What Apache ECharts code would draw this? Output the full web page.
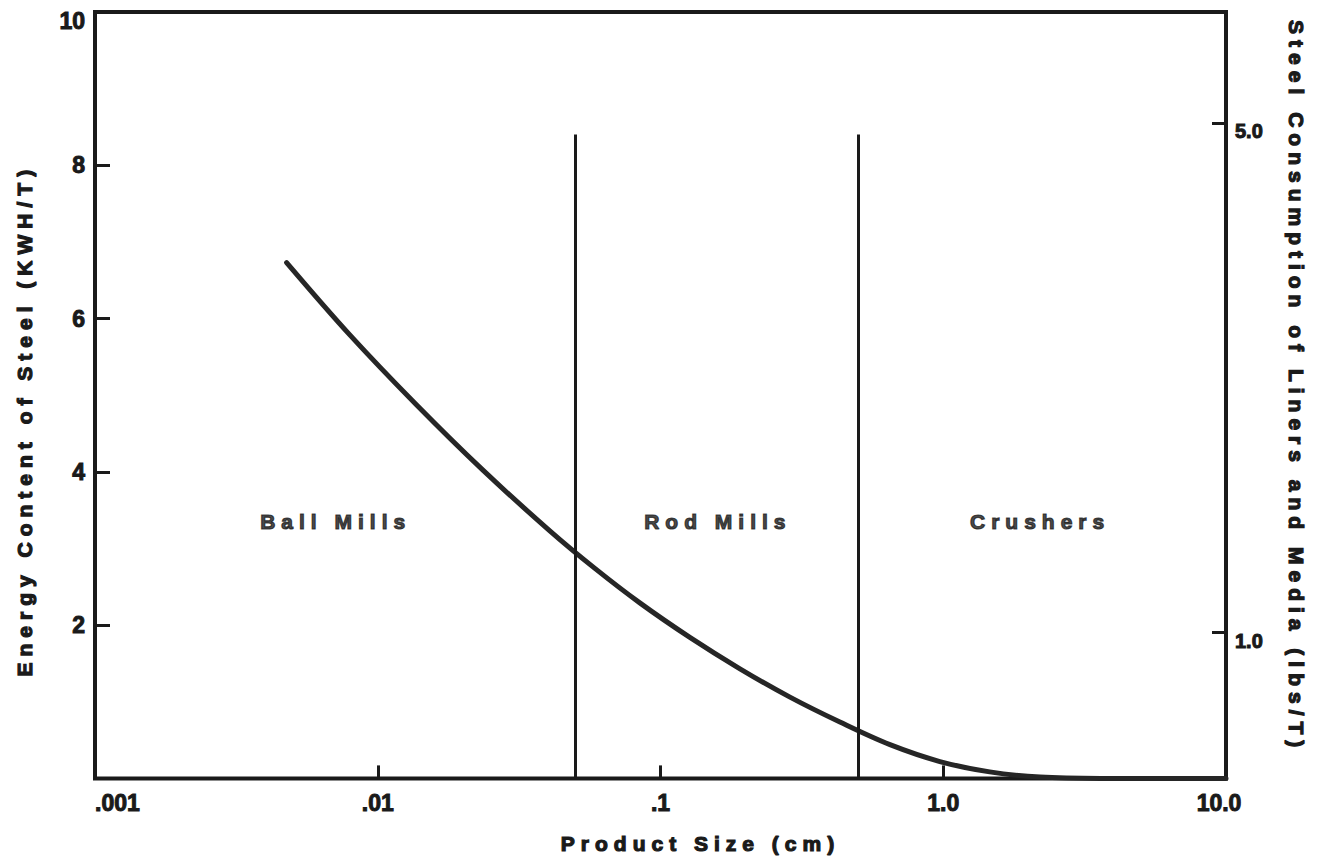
<!DOCTYPE html>
<html>
<head>
<meta charset="utf-8">
<title>Energy Content of Steel vs Product Size</title>
<script src="https://cdn.jsdelivr.net/npm/echarts@6/dist/echarts.min.js"></script>
<style>
  html, body { margin: 0; padding: 0; background: #ffffff; }
  #chart { width: 1317px; height: 860px; }
  /* wide tracking for the lettered captions (they use the sans-serif fallback stack) */
  #chart text[style*="sans-serif"] { letter-spacing: 6px; }
</style>
</head>
<body>
<div id="chart"></div>
<script>
// Product size (cm) along the curve and the energy content of steel (KWH/T) at each size
const productSizeCm = [0.00476, 0.00795, 0.0137, 0.0235, 0.0406, 0.0586, 0.0845, 0.127, 0.191,
                       0.287, 0.431, 0.648, 0.973, 1.46, 2.2, 3.6, 5.8, 10];
const energyContent = [6.73, 5.79, 4.875, 4.025, 3.23, 2.74, 2.29, 1.84, 1.43,
                       1.06, 0.735, 0.44, 0.22, 0.085, 0.017, 0, 0, 0];

// Boundaries between the mill types (cm) and how high the divider lines reach
const millBoundariesCm = [0.05, 0.5];
const boundaryTop = 8.4;

// Region captions
const regionNames = ['Ball Mills', 'Rod Mills', 'Crushers'];
const regionSizeCm = [0.0071, 0.1595, 2.2];
const regionLevel = 3.35;

// Tick labels
const xTickLabels = ['.001', '.01', '.1', '1.0', '10.0'];
const rightTicks = [1.0, 5.0];

const INK = '#1a1a1a';
const NUM_FONT = 'Liberation Sans';
const CAPTION_FONT = "'Liberation Sans', sans-serif";

// heavy bold look: fill plus a thin outline of the same ink
const heavy = { fontWeight: 'bold', color: INK, textBorderColor: INK, textBorderWidth: 1.0 };
const heavier = { fontWeight: 'bold', color: INK, textBorderColor: INK, textBorderWidth: 1.2 };

const chart = echarts.init(document.getElementById('chart'), null, { renderer: 'svg' });

const curveData = productSizeCm.map((s, i) => [s, energyContent[i]]);
const regionData = regionNames.map((n, i) => ({ value: [regionSizeCm[i], regionLevel], name: n }));
const dividerLines = millBoundariesCm.map(b => [{ coord: [b, 0] }, { coord: [b, boundaryTop] }]);

chart.setOption({
  animation: false,
  backgroundColor: '#ffffff',
  grid: {
    left: 95, right: 91, top: 12, bottom: 81,
    show: true, borderColor: INK, borderWidth: 4, backgroundColor: 'transparent'
  },
  xAxis: {
    type: 'log', logBase: 10, min: 0.001, max: 10,
    name: 'Product Size (cm)',
    nameLocation: 'middle', nameGap: 55,
    nameTextStyle: Object.assign({ fontFamily: CAPTION_FONT, fontSize: 21, padding: [0, 0, 0, 80] }, heavier),
    axisLine: { show: false },
    axisTick: { show: true, inside: true, length: 13, lineStyle: { color: INK, width: 3 } },
    minorTick: { show: false },
    splitLine: { show: false },
    axisLabel: Object.assign({
      margin: 13, fontFamily: NUM_FONT, fontSize: 23,
      alignMinLabel: 'left',
      formatter: v => {
        const idx = Math.round(Math.log10(v)) + 3;
        const t = xTickLabels[idx];
        return idx === xTickLabels.length - 1 ? '{end|' + t + '}' : t;
      },
      rich: { end: Object.assign({ fontFamily: NUM_FONT, fontSize: 23, padding: [0, 14, 0, 0] }, heavy) }
    }, heavy)
  },
  yAxis: [
    {
      type: 'value', min: 0, max: 10, interval: 2, position: 'left',
      name: 'Energy Content of Steel (KWH/T)',
      nameLocation: 'middle', nameGap: 60, nameRotate: 90,
      nameTextStyle: Object.assign({ fontFamily: CAPTION_FONT, fontSize: 21, padding: [0, 50, 0, 0] }, heavier),
      axisLine: { show: false },
      axisTick: { show: true, inside: true, length: 15, lineStyle: { color: INK, width: 3 } },
      splitLine: { show: false },
      axisLabel: Object.assign({
        showMinLabel: false, margin: 10, fontFamily: NUM_FONT, fontSize: 23,
        formatter: v => v === 10 ? '{top|10}' : String(v),
        rich: { top: Object.assign({ fontFamily: NUM_FONT, fontSize: 23, padding: [18, 0, 0, 0] }, heavy) }
      }, heavy)
    },
    {
      type: 'value', min: -0.145, max: 5.871, position: 'right',
      name: 'Steel Consumption of Liners and Media (lbs/T)',
      nameLocation: 'middle', nameGap: 60, nameRotate: -90,
      nameTextStyle: Object.assign({ fontFamily: CAPTION_FONT, fontSize: 21, padding: [0, 17, 0, 0] }, heavier),
      axisLine: { show: false },
      axisTick: { show: true, inside: true, length: 14, customValues: rightTicks, lineStyle: { color: INK, width: 3 } },
      splitLine: { show: false },
      axisLabel: Object.assign({
        customValues: rightTicks, margin: 9, fontFamily: NUM_FONT, fontSize: 20,
        formatter: v => '{low|' + Number(v).toFixed(1) + '}',
        rich: { low: Object.assign({ fontFamily: NUM_FONT, fontSize: 20, padding: [16, 0, 0, 0] }, heavy) }
      }, heavy)
    }
  ],
  series: [
    {
      name: 'Energy Content of Steel',
      type: 'line',
      yAxisIndex: 0,
      data: curveData,
      showSymbol: false,
      symbol: 'none',
      smooth: 0.35,
      lineStyle: { color: '#262626', width: 5, cap: 'round' },
      z: 3,
      markLine: {
        silent: true,
        symbol: ['none', 'none'],
        label: { show: false },
        lineStyle: { color: INK, width: 3, type: 'solid' },
        data: dividerLines
      }
    },
    {
      name: 'Regions',
      type: 'scatter',
      yAxisIndex: 0,
      data: regionData,
      symbolSize: 0,
      silent: true,
      label: Object.assign({
        show: true, position: 'inside',
        formatter: p => p.name,
        fontFamily: CAPTION_FONT, fontSize: 21
      }, heavier)
    }
  ]
});
</script>
</body>
</html>
